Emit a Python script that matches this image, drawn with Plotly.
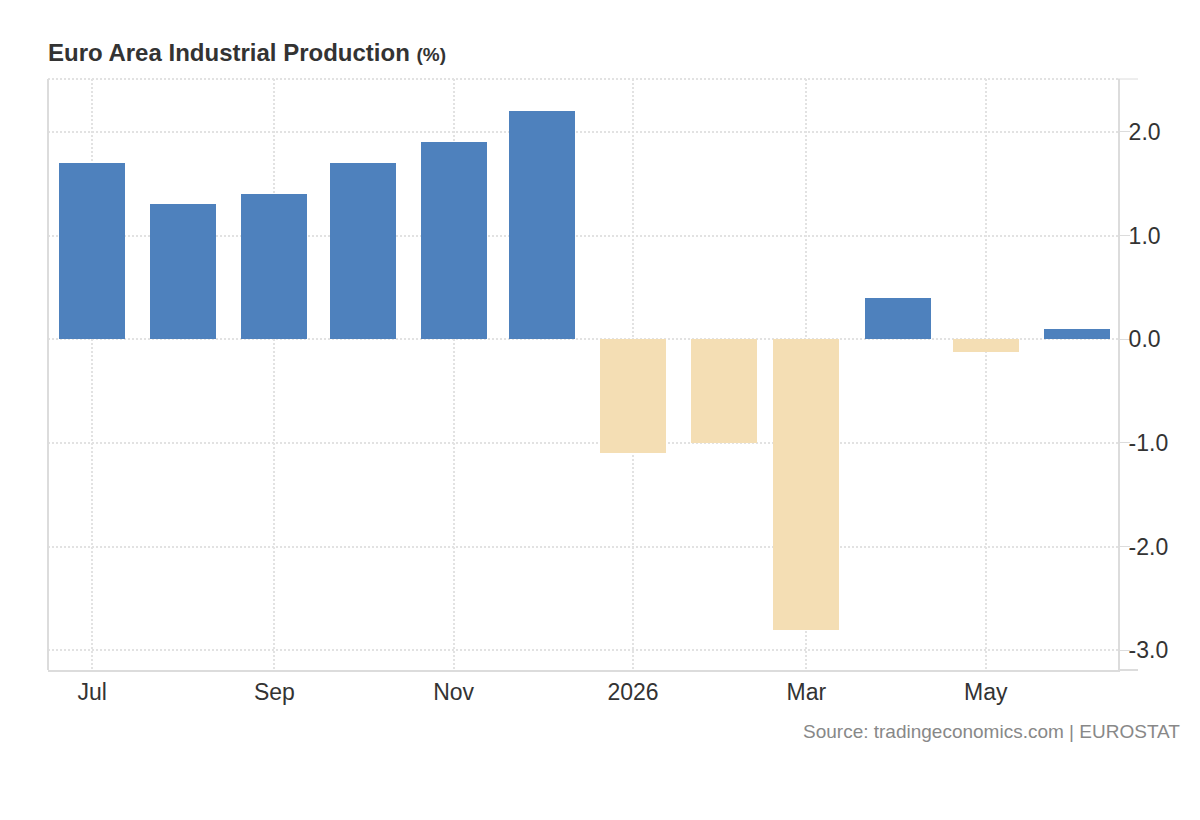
import plotly.graph_objects as go

# monthly change, Euro Area industrial production (%)
months = ['2025-07-01', '2025-08-01', '2025-09-01', '2025-10-01', '2025-11-01', '2025-12-01',
          '2026-01-01', '2026-02-01', '2026-03-01', '2026-04-01', '2026-05-01', '2026-06-01']
values = [1.7, 1.3, 1.4, 1.7, 1.9, 2.2, -1.1, -1.0, -2.8, 0.4, -0.12, 0.1]

tick_dates = ['2025-07-01', '2025-09-01', '2025-11-01', '2026-01-01', '2026-03-01', '2026-05-01']
tick_labels = ['Jul', 'Sep', 'Nov', '2026', 'Mar', 'May']

BLUE = '#4e81bd'
TAN = '#f4deb4'
GRID = '#dcdcdc'
DOTS = '#e2e2e2'
colors = [BLUE if v >= 0 else TAN for v in values]

fig = go.Figure(go.Bar(
    x=months, y=values, marker_color=colors, marker_line_width=0,
    width=22.45 * 86400000, hoverinfo='skip'))

# page body adds 8px, margins compensate for that
fig.update_layout(
    width=1200, height=820,
    margin=dict(l=40, r=90, t=71, b=158),
    plot_bgcolor='white', paper_bgcolor='white',
    font=dict(family='Liberation Sans, Arial, sans-serif', color='#333', size=23),
    showlegend=False,
    bargap=0,
)

fig.update_xaxes(
    type='date', range=['2025-06-16', '2026-06-15'],
    tickvals=tick_dates, ticktext=tick_labels,
    showgrid=True, gridcolor=DOTS, griddash='2px,2px', gridwidth=2,
    showline=True, linecolor=GRID, linewidth=2,
    ticks='', ticklabelstandoff=0,
)
fig.update_yaxes(
    side='right', range=[-3.19, 2.51],
    tickvals=[-3, -2, -1, 0, 1, 2], ticktext=['-3.0', '-2.0', '-1.0', '0.0', '1.0', '2.0'],
    showgrid=True, gridcolor=DOTS, griddash='2px,2px', gridwidth=2,
    zeroline=False,
    showline=True, linecolor=GRID, linewidth=2,
    ticks='outside', ticklen=10, tickcolor=GRID, tickwidth=1,
    ticklabelstandoff=-6,
)

# plot frame: dotted top, left line, axis end caps to the right
fig.add_shape(type='line', xref='paper', yref='paper', x0=0, x1=1, y0=1, y1=1,
              line=dict(color=DOTS, width=2, dash='2px,2px'))
fig.add_shape(type='line', xref='paper', yref='paper', x0=0, x1=0, y0=0, y1=1,
              line=dict(color=GRID, width=2))
fig.add_shape(type='line', xref='paper', yref='paper', x0=1, x1=1.0187, y0=1, y1=1,
              line=dict(color=GRID, width=1))
fig.add_shape(type='line', xref='paper', yref='paper', x0=1, x1=1.0187, y0=0, y1=0,
              line=dict(color=GRID, width=2))

fig.add_annotation(
    text='<b>Euro Area Industrial Production</b> <b><span style="font-size:19px">(%)</span></b>',
    xref='paper', yref='paper', x=0, y=1, xshift=-2, yshift=27,
    xanchor='left', yanchor='middle', showarrow=False,
    font=dict(size=24, color='#333'))

fig.add_annotation(
    text='Source: tradingeconomics.com | EUROSTAT',
    xref='paper', yref='paper', x=1, y=0, xshift=64, yshift=-61,
    xanchor='right', yanchor='middle', showarrow=False,
    font=dict(size=19, color='#888'))

fig.write_html('out.html')
